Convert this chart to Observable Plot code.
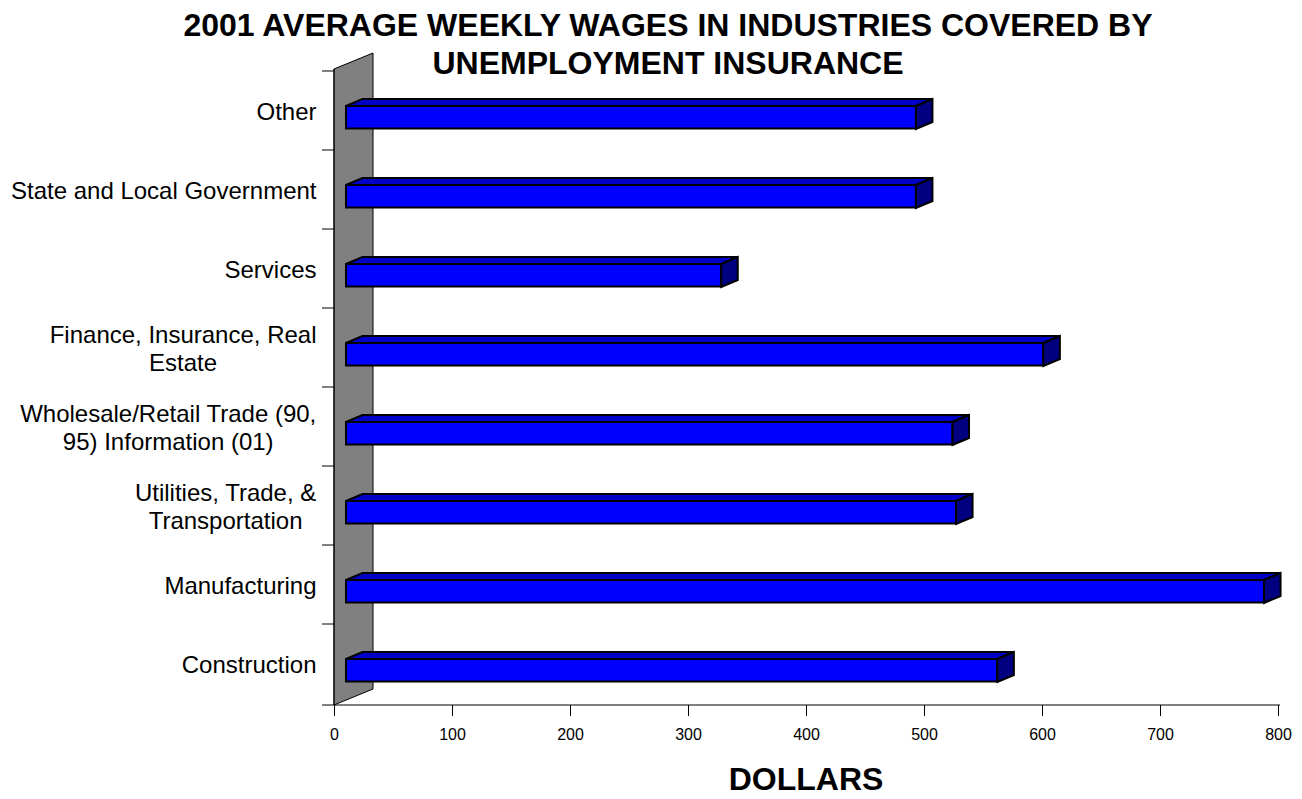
<!DOCTYPE html>
<html>
<head>
<meta charset="utf-8">
<script src="https://cdn.jsdelivr.net/npm/d3@7"></script>
<script src="https://cdn.jsdelivr.net/npm/@observablehq/plot@0.6"></script>
<style>
  html, body { margin: 0; padding: 0; background: #fff; }
  #wrap { position: relative; width: 1302px; height: 799px; overflow: hidden; font-family: "Liberation Sans", Arial, sans-serif; }
  #title { position: absolute; left: 0; width: 1336px; top: 6px; text-align: center; font-weight: bold; font-size: 32px; line-height: 38px; color: #000; z-index: 2; }
  #xlabel { position: absolute; left: 0; width: 1612px; top: 764px; text-align: center; font-weight: bold; font-size: 32px; line-height: 30px; color: #000; }
  #chart { position: absolute; left: 0; top: 0; }
</style>
</head>
<body>
<div id="wrap">
  <div id="chart"></div>
  <div id="title">2001 AVERAGE WEEKLY WAGES IN INDUSTRIES COVERED BY<br>UNEMPLOYMENT INSURANCE</div>
  <div id="xlabel">DOLLARS</div>
</div>
<script>
// ---- data ----
const categories = [
  "Other",
  "State and Local Government",
  "Services",
  "Finance, Insurance, Real Estate",
  "Wholesale/Retail Trade (90, 95) Information (01)",
  "Utilities, Trade, & Transportation",
  "Manufacturing",
  "Construction"
];
const labelLines = [
  ["Other"],
  ["State and Local Government"],
  ["Services"],
  ["Finance, Insurance, Real", "Estate"],
  ["Wholesale/Retail Trade (90,", "95) Information (01)"],
  ["Utilities, Trade, &", "Transportation"],
  ["Manufacturing"],
  ["Construction"]
];
const wages = [483, 483, 318, 591, 514, 517, 778, 552];
const xTicks = [0, 100, 200, 300, 400, 500, 600, 700, 800];

const data = categories.map((c, i) => ({category: c, wage: wages[i], label: labelLines[i].join("\n")}));

// ---- 3D look ----
const FONT = "\"Liberation Sans\", Arial, sans-serif";
const LABEL_SIZE = 24;
const depthX = 39, depthY = -16;     // wall depth
const barOffX = 12;                  // bar front plane offset
const barDX = 16.5, barDY = -7;      // bar depth
const barTop = 35, barH = 23;        // within band

const canvas = document.createElement("canvas");
const ctx = canvas.getContext("2d");
ctx.font = LABEL_SIZE + "px " + FONT;
const labelWidth = lines => Math.max(...lines.map(l => ctx.measureText(l).width));

const wallMark = (index, scales, values, dimensions) => {
  const g = d3.create("svg:g");
  const x0 = scales.x(0);
  const top = dimensions.marginTop;
  const bottom = dimensions.height - dimensions.marginBottom;
  g.append("polygon")
    .attr("points", [[x0, top], [x0 + depthX, top + depthY], [x0 + depthX, bottom + depthY], [x0, bottom]].join(" "))
    .attr("fill", "#808080").attr("stroke", "#000").attr("stroke-width", 1);
  // y tick stubs at band boundaries
  categories.forEach(c => {
    const y = scales.y(c);
    g.append("line").attr("x1", x0 - 12).attr("x2", x0).attr("y1", y).attr("y2", y).attr("stroke", "#000");
  });
  // x axis line
  g.append("line").attr("x1", x0 - 12).attr("x2", scales.x(800) + 2)
    .attr("y1", bottom).attr("y2", bottom).attr("stroke", "#000");
  g.append("line").attr("x1", x0).attr("x2", x0).attr("y1", top).attr("y2", bottom).attr("stroke", "#000");
  return g.node();
};

const barSides = (index, scales, values, dimensions) => {
  const g = d3.create("svg:g").attr("stroke", "#000").attr("stroke-width", 2).attr("stroke-linejoin", "miter");
  data.forEach(d => {
    const x0 = scales.x(0) + barOffX;
    const x1 = scales.x(d.wage) + barOffX;
    const yT = scales.y(d.category) + barTop;
    const yB = yT + barH;
    g.append("polygon").attr("fill", "#0000c8")
      .attr("points", [[x0, yT], [x1, yT], [x1 + barDX, yT + barDY], [x0 + barDX, yT + barDY]].join(" "));
    g.append("polygon").attr("fill", "#000080")
      .attr("points", [[x1, yT], [x1 + barDX, yT + barDY], [x1 + barDX, yB + barDY], [x1, yB]].join(" "));
  });
  return g.node();
};

const labelMarks = categories.map((c, i) => Plot.text([data[i]], {
  y: "category",
  text: "label",
  frameAnchor: "left",
  textAnchor: "middle",
  lineAnchor: "middle",
  lineHeight: 1.15,
  fontSize: LABEL_SIZE,
  fill: "#000",
  dx: -(18 + labelWidth(labelLines[i]) / 2)
}));

const chart = Plot.plot({
  width: 1302,
  height: 799,
  marginLeft: 334,
  marginRight: 24,
  marginTop: 69,
  marginBottom: 94,
  style: {fontFamily: FONT, background: "transparent", color: "#000", overflow: "visible"},
  x: {domain: [0, 800], axis: null},
  y: {domain: categories, padding: 0, axis: null},
  marks: [
    wallMark,
    Plot.axisX(xTicks, {anchor: "bottom", tickSize: 11, tickPadding: 12, fontSize: 16, label: null, tickFormat: d => String(d)}),
    Plot.barX(data, {
      y: "category", x1: 0, x2: "wage", dx: barOffX,
      insetTop: barTop, insetBottom: 79.5 - barTop - barH,
      fill: "#0000ff", stroke: "#000", strokeWidth: 2
    }),
    barSides,
    ...labelMarks
  ]
});
document.getElementById("chart").appendChild(chart);
</script>
</body>
</html>
